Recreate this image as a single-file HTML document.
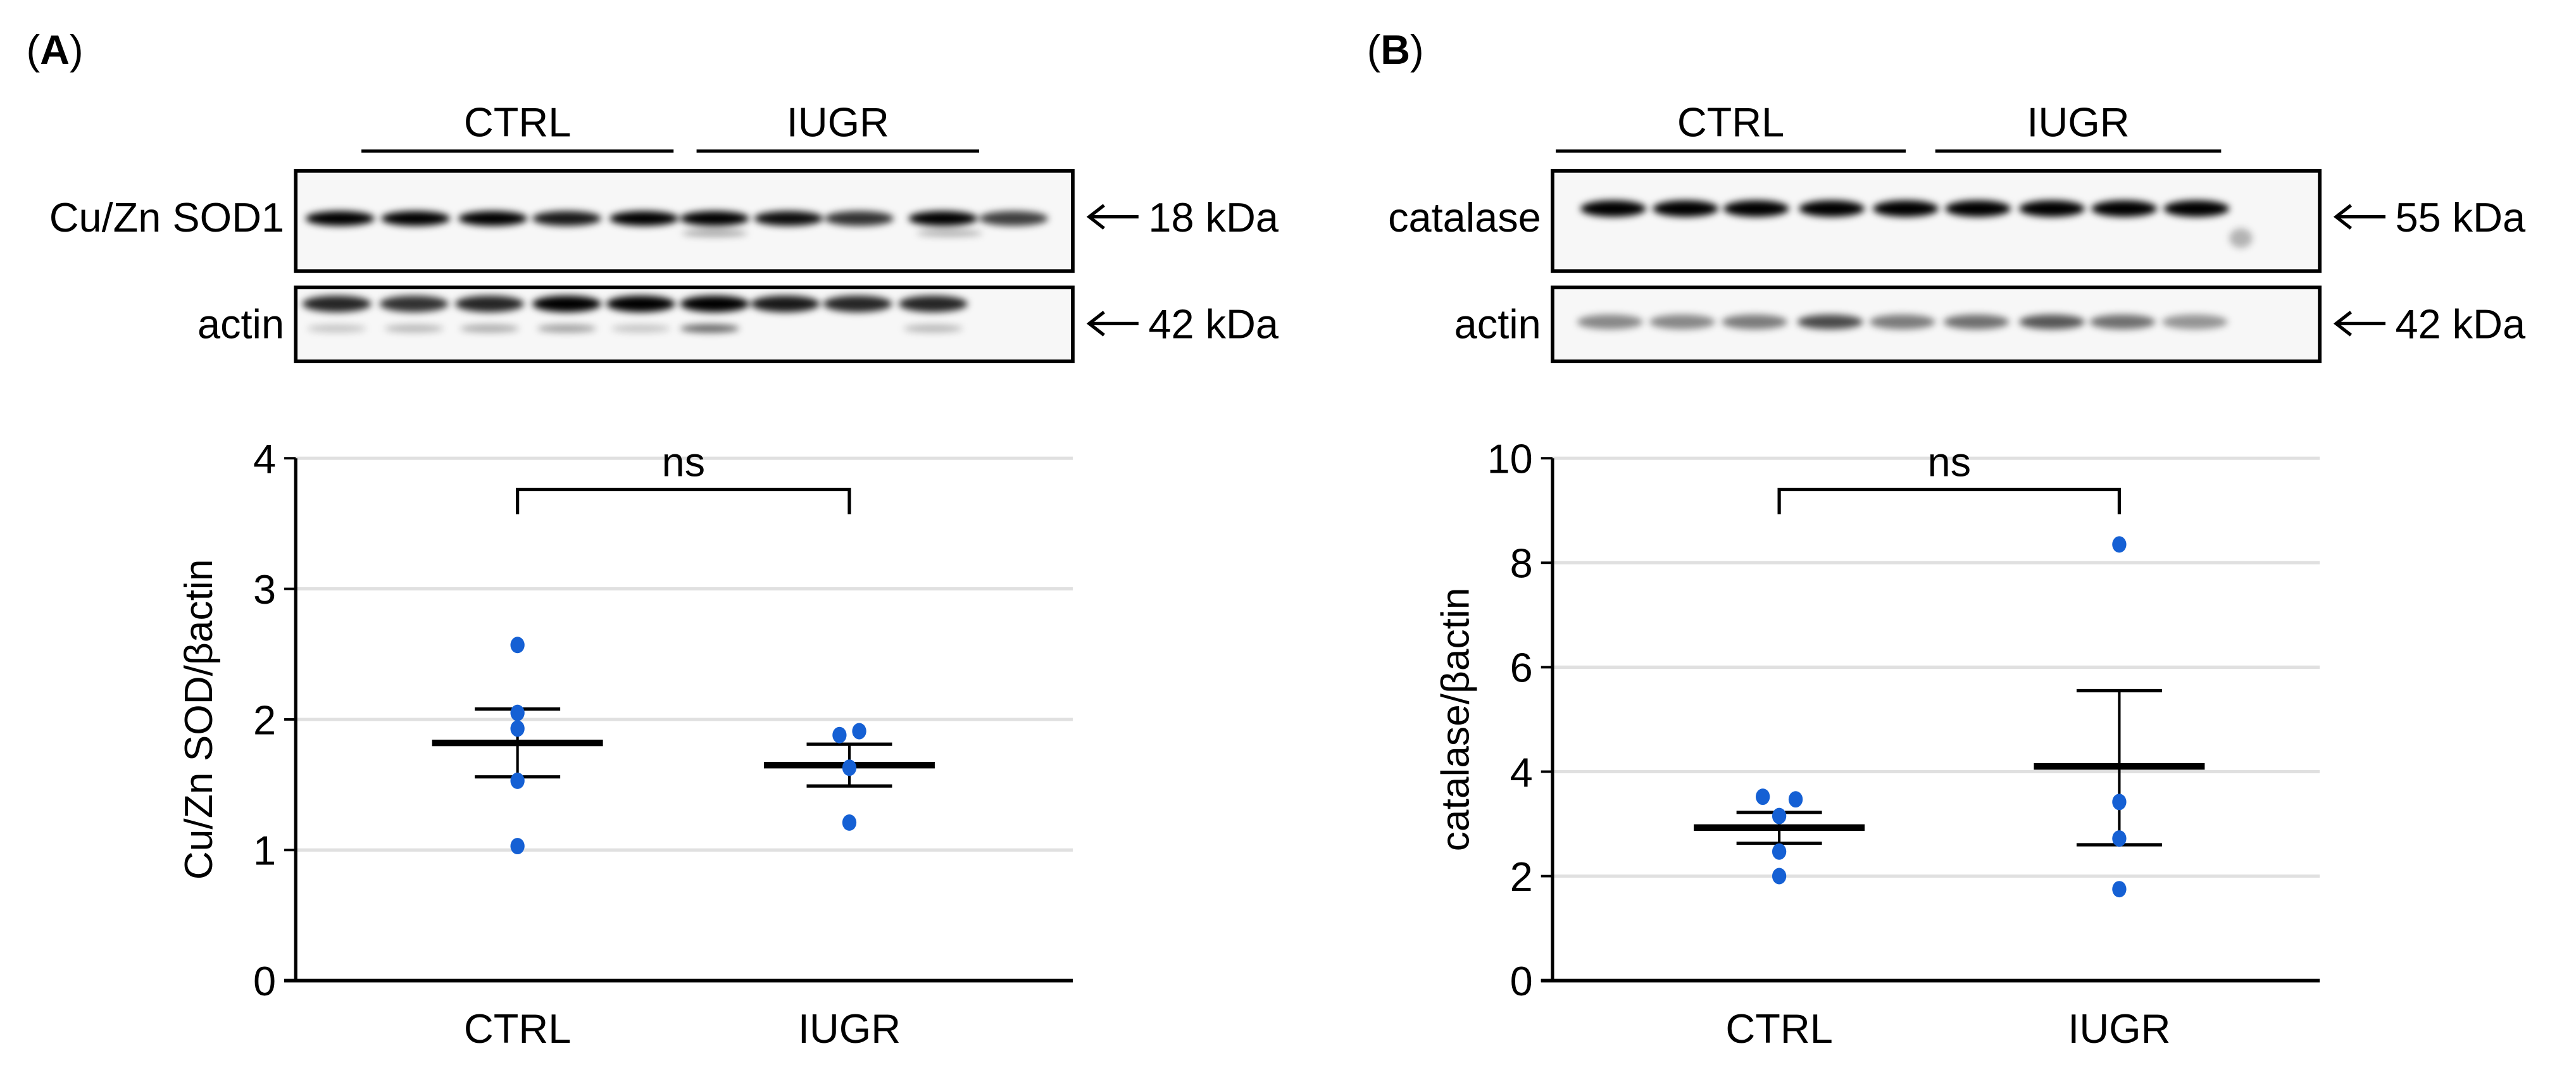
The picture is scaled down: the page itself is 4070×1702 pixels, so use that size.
<!DOCTYPE html>
<html><head><meta charset="utf-8"><style>
html,body{margin:0;padding:0;background:#fff;}
svg{display:block;font-family:"Liberation Sans",sans-serif;}
</style></head><body>
<svg id="fig" width="4070" height="1702" viewBox="0 0 1568 655.7" xmlns="http://www.w3.org/2000/svg">
<defs>
<filter id="blur" x="-20%" y="-50%" width="140%" height="200%"><feGaussianBlur stdDeviation="2.2"/></filter>
</defs>
<g id="root"></g>
</svg>
<script>
// Panel A data (Cu/Zn SOD / beta-actin)
const categories = ["CTRL", "IUGR"];
const aCtrlPoints = [2.57, 2.05, 1.93, 1.53, 1.03];
const aIugrPoints = [1.88, 1.91, 1.63, 1.21];
const aMeans = [1.82, 1.65];
const aSemUpper = [2.08, 1.81];
const aSemLower = [1.56, 1.49];
const aTicks = [0, 1, 2, 3, 4];
// Panel B data (catalase / beta-actin)
const bCtrlPoints = [3.52, 3.47, 3.15, 2.47, 2.0];
const bIugrPoints = [8.35, 3.42, 2.72, 1.75];
const bMeans = [2.93, 4.1];
const bSemUpper = [3.22, 5.55];
const bSemLower = [2.63, 2.6];
const bTicks = [0, 2, 4, 6, 8, 10];

const NS = "http://www.w3.org/2000/svg";
const root = document.getElementById("root");
function mk(tag, attrs, parent, text) {
  const e = document.createElementNS(NS, tag);
  for (const k in attrs) e.setAttribute(k, attrs[k]);
  if (text !== undefined) e.textContent = text;
  (parent || root).appendChild(e);
  return e;
}

function panel(cfg) {
  const g = mk("g", {});
  
  
  const L = mk("text", {x: cfg.letterX, y: 39, "font-size": 25}, g);
  
  
  mk("tspan", {}, L, "(");
  mk("tspan", {"font-weight": "bold"}, L, cfg.letter);
  mk("tspan", {}, L, ")");

  cfg.groups.forEach(gr => {
    const ln = mk("line", {x1: gr[0], x2: gr[1], y1: 92, y2: 92, stroke: "#000", "stroke-width": 2}, g);
    
    
    const t = mk("text", {x: (gr[0] + gr[1]) / 2, y: 83, "font-size": 25, "text-anchor": "middle"}, g, gr[2]);
    
    
  });

  cfg.blots.forEach(b => {
    const bg = mk("g", {}, g);
    
    
    mk("rect", {x: cfg.x0, y: b.y0, width: cfg.x1 - cfg.x0, height: b.y1 - b.y0, fill: "#f7f7f7"}, bg);
    const bands = mk("g", {filter: "url(#blur)"}, bg);
    b.bands.forEach(bd => {
      mk("ellipse", {cx: bd[0], cy: bd[1], rx: bd[2], ry: bd[3], fill: "#000", opacity: bd[4]}, bands);
    });
    mk("rect", {x: cfg.x0, y: b.y0, width: cfg.x1 - cfg.x0, height: b.y1 - b.y0, fill: "none", stroke: "#000", "stroke-width": 2.2}, bg);
    const lb = mk("text", {x: cfg.x0 - 7, y: b.ty, "font-size": 25, "text-anchor": "end"}, bg, b.label);
    
    
    const ay = b.ty - 9;
    const ar = mk("path", {d: `M${cfg.x1 + 40},${ay} H${cfg.x1 + 10} M${cfg.x1 + 19},${ay - 7} L${cfg.x1 + 10},${ay} L${cfg.x1 + 19},${ay + 7}`, fill: "none", stroke: "#000", "stroke-width": 2}, bg);
    
    
    const kt = mk("text", {x: cfg.x1 + 46, y: b.ty, "font-size": 25}, bg, b.kda);
    
    
  });

  const top = 279, bot = 597, max = cfg.ticks[cfg.ticks.length - 1];
  const y = v => bot - (v / max) * (bot - top);
  const xs = [cfg.cx[0], cfg.cx[1]];
  cfg.ticks.forEach(t => {
    if (t > 0) {
      const gl = mk("line", {x1: cfg.x0, x2: cfg.x1, y1: y(t), y2: y(t), stroke: "#e0e0e0", "stroke-width": 2}, g);
      
      
    }
    mk("line", {x1: cfg.x0 - 7, x2: cfg.x0, y1: y(t), y2: y(t), stroke: "#000", "stroke-width": 1.5}, g);
    const tl = mk("text", {x: cfg.x0 - 12, y: y(t) + 9, "font-size": 25, "text-anchor": "end"}, g, String(t));
    
    
  });
  const ya = mk("line", {x1: cfg.x0, x2: cfg.x0, y1: top, y2: bot, stroke: "#000", "stroke-width": 2}, g);
  
  
  const xa = mk("line", {x1: cfg.x0 - 7, x2: cfg.x1, y1: bot, y2: bot, stroke: "#000", "stroke-width": 2.2}, g);
  
  
  const yt = mk("text", {x: 0, y: 0, "font-size": 24, "text-anchor": "middle", transform: `translate(${cfg.x0 - 51},${(top + bot) / 2}) rotate(-90)`}, g, cfg.ytitle);
  
  
  categories.forEach((c, i) => {
    const t = mk("text", {x: xs[i], y: 635, "font-size": 25, "text-anchor": "middle"}, g, c);
    
    
  });
  const br = mk("path", {d: `M${xs[0]},313 V298 H${xs[1]} V313`, fill: "none", stroke: "#000", "stroke-width": 2}, g);
  
  
  const ns = mk("text", {x: (xs[0] + xs[1]) / 2, y: 290, "font-size": 25, "text-anchor": "middle"}, g, "ns");
  
  
  [0, 1].forEach(i => {
    const eb = mk("g", {}, g);
    
    
    mk("line", {x1: xs[i], x2: xs[i], y1: y(cfg.up[i]), y2: y(cfg.lo[i]), stroke: "#000", "stroke-width": 1.6}, eb);
    mk("line", {x1: xs[i] - 26, x2: xs[i] + 26, y1: y(cfg.up[i]), y2: y(cfg.up[i]), stroke: "#000", "stroke-width": 2}, eb);
    mk("line", {x1: xs[i] - 26, x2: xs[i] + 26, y1: y(cfg.lo[i]), y2: y(cfg.lo[i]), stroke: "#000", "stroke-width": 2}, eb);
    mk("line", {x1: xs[i] - 52, x2: xs[i] + 52, y1: y(cfg.means[i]), y2: y(cfg.means[i]), stroke: "#000", "stroke-width": 4}, eb);
  });
  [cfg.p0, cfg.p1].forEach((pts, i) => {
    pts.forEach((v, j) => {
      const off = cfg.jit[i][j] || 0;
      const c = mk("ellipse", {cx: xs[i] + off, cy: y(v), rx: 4.3, ry: 5, fill: "#1560d4"}, g);
      
      
    });
  });
}

function lanes(xsArr, cy, rx, ry, ops) { return xsArr.map((x, i) => [x, cy, rx, ry, ops[i]]); }

panel({
  name: "panel-a", letter: "A", letterX: 16, x0: 180, x1: 653,
  groups: [[220, 410, "CTRL"], [424, 596, "IUGR"]],
  blots: [
    {y0: 104, y1: 165, ty: 141, label: "Cu/Zn SOD1", kda: "18 kDa",
     bands: lanes([207, 253, 300, 345, 392, 435, 480, 523, 574, 617], 133, 21, 4.5, [1, 1, 1, 0.9, 1, 1, 0.95, 0.8, 1, 0.75])
       .concat(lanes([435, 578], 142, 20, 2, [0.35, 0.3]))},
    {y0: 175, y1: 220, ty: 206, label: "actin", kda: "42 kDa",
     bands: lanes([205, 252, 298, 345, 390, 435, 478, 522, 568], 185, 21, 5, [0.85, 0.8, 0.85, 1, 1, 1, 0.9, 0.85, 0.85])
       .concat(lanes([205, 252, 298, 345, 390, 432, 568], 200, 18, 2.5, [0.2, 0.25, 0.3, 0.35, 0.2, 0.6, 0.25]))}
  ],
  cx: [315, 517], ticks: aTicks, ytitle: "Cu/Zn SOD/\u03B2actin",
  means: aMeans, up: aSemUpper, lo: aSemLower, p0: aCtrlPoints, p1: aIugrPoints,
  jit: [[0, 0, 0, 0, 0], [-6, 6, 0, 0]]
});
panel({
  name: "panel-b", letter: "B", letterX: 832, x0: 945, x1: 1412,
  groups: [[947, 1160, "CTRL"], [1178, 1352, "IUGR"]],
  blots: [
    {y0: 104, y1: 165, ty: 141, label: "catalase", kda: "55 kDa",
     bands: lanes([982, 1026, 1069, 1115, 1160, 1204, 1249, 1293, 1337], 127, 20, 5, [1, 1, 1, 1, 1, 1, 1, 1, 1])
       .concat(lanes([1364, 1364], 145, 7, 6, [0.15, 0.15]))},
    {y0: 175, y1: 220, ty: 206, label: "actin", kda: "42 kDa",
     bands: lanes([980, 1024, 1068, 1114, 1158, 1203, 1249, 1292, 1336], 196, 20, 4.5, [0.45, 0.45, 0.5, 0.7, 0.5, 0.55, 0.65, 0.55, 0.4])}
  ],
  cx: [1083, 1290], ticks: bTicks, ytitle: "catalase/\u03B2actin",
  means: bMeans, up: bSemUpper, lo: bSemLower, p0: bCtrlPoints, p1: bIugrPoints,
  jit: [[-10, 10, 0, 0, 0], [0, 0, 0, 0]]
});
</script>
</body></html>
